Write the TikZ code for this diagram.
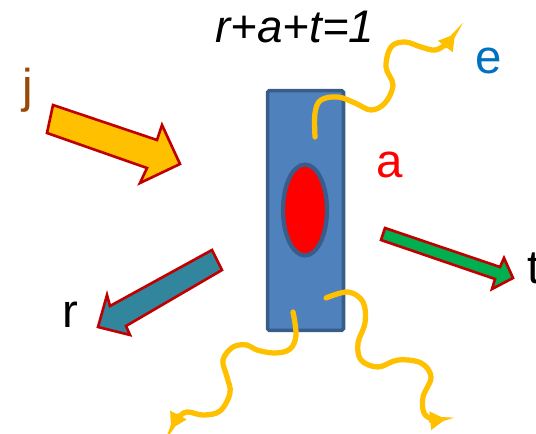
\documentclass[tikz,border=0pt]{standalone}
\usepackage{fontspec}
\setmainfont{Liberation Sans}
\usepackage{tikz}
\usetikzlibrary{positioning,arrows.meta,shapes.geometric}
\definecolor{slabblue}{HTML}{4F81BD}
\definecolor{slabedge}{HTML}{385D8A}
\definecolor{waveyellow}{HTML}{FFC000}
\definecolor{arrowred}{HTML}{C00000}
\definecolor{arrowteal}{HTML}{31859C}
\definecolor{arrowgreen}{HTML}{00B050}
\definecolor{jbrown}{HTML}{984807}
\definecolor{eblue}{HTML}{0070C0}
\begin{document}
\begin{tikzpicture}[x=0.02cm, y=-0.02cm,
  blockarrow/.style={draw=arrowred, line width=1.5pt, line join=miter, fill=#1},
  wave/.style={draw=waveyellow, line width=3pt, line cap=round,
    -{Triangle[length=9pt,width=10pt]}},
  lbl/.style={font=\fontsize{27}{27}\selectfont, inner sep=0pt, anchor=base}
]
\useasboundingbox (0,0) rectangle (536,433);

% Slab with absorbing core
\node[draw=slabedge, fill=slabblue, line width=2pt, rounded corners=1pt,
  minimum width=1.52cm, minimum height=4.8cm, inner sep=0pt] (slab) at (305.5,210.5) {};
\node[ellipse, draw=slabedge, fill=red, line width=2.4pt,
  minimum width=0.88cm, minimum height=1.82cm, inner sep=0pt] (core) at (305,210) {};

% Incoming and outgoing fluxes
\draw[blockarrow=waveyellow] (53,105) -- (157,140) -- (162,125) -- (180,164)
  -- (140,183) -- (147,168) -- (47,133) -- cycle;
\draw[blockarrow=arrowteal] (212,250) -- (222,270) -- (126,326) -- (130,335)
  -- (98,327) -- (107,295) -- (110,306) -- cycle;
\draw[blockarrow=arrowgreen] (385,228) -- (500,267) -- (504,258) -- (513,278)
  -- (492,289) -- (495,279) -- (381,240) -- cycle;

% Emission waves
\draw[wave] plot[smooth, tension=0.6] coordinates {(315,137) (315,113) (321,100)
  (338,97) (355,103) (371,110) (385,103) (393,85) (386,67) (391,47) (405,42)
  (421,47) (435,50) (446,44) (455,34)};
\draw[wave] plot[smooth, tension=0.6] coordinates {(293,312) (296,335) (290,349)
  (275,353) (257,350) (247,345) (233,347) (223,360) (227,377) (230,393)
  (220,411) (203,415) (187,412) (178,418) (171,429)};
\draw[wave] plot[smooth, tension=0.6] coordinates {(326,298) (348,292) (363,302)
  (365,323) (358,343) (361,360) (378,367) (398,360) (421,363) (431,377)
  (423,397) (424,413) (433,419) (446,419)};

% Labels
\node[lbl, font=\fontsize{26}{26}\selectfont\itshape, anchor=base west] (sum) at (215,42) {r+a+t=1};
\node[lbl, text=jbrown] (jlab) at (28,102) {j};
\node[lbl, text=eblue] (elab) at (489,73) {e};
\node[lbl, text=red] (alab) at (390,177) {a};
\node[lbl] (rlab) at (70,327) {r};
\node[lbl, anchor=base west] (tlab) at (527,283) {t};

\end{tikzpicture}
\end{document}
